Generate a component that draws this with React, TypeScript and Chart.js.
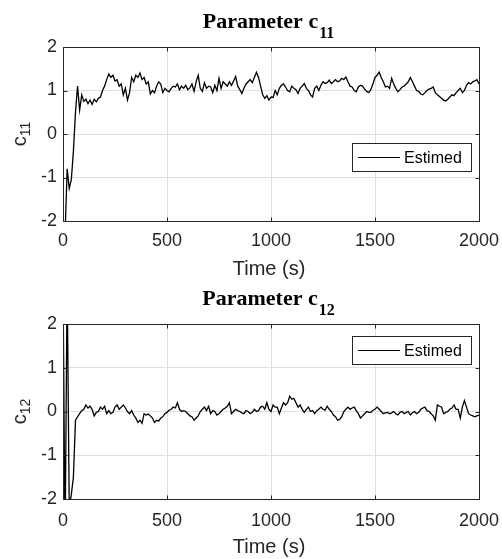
import { useEffect, useRef } from "react";
import { Chart, registerables } from "chart.js";
Chart.register(...registerables);

// ---------- data ----------
const SAMPLE_STEP = 10; // seconds between samples (0 .. 2000 s)
const X_TICKS = [0, 500, 1000, 1500, 2000];
const Y_TICKS = [-2, -1, 0, 1, 2];
const X_LABEL = "Time (s)";
const LEGEND_LABEL = "Estimed";

const C11_VALUES = [
  -2.5, -2.3, -0.8, -1.25, -1.05, -0.4, 0.5, 1.1, 0.55, 0.9,
  0.75, 0.8, 0.7, 0.78, 0.68, 0.8, 0.74, 0.82, 0.85, 1.0,
  1.1, 1.25, 1.38, 1.3, 1.35, 1.22, 1.25, 1.1, 1.15, 0.9,
  1.05, 0.78, 0.95, 1.3, 1.2, 1.35, 1.3, 1.4, 1.25, 1.3,
  1.15, 1.2, 0.92, 1.0, 0.95, 1.1, 1.2, 1.15, 0.95, 1.05,
  1.0, 0.97, 1.05, 1.1, 1.08, 1.15, 1.02, 1.1, 1.05, 1.12,
  1.02, 1.06, 1.15, 0.98, 1.2, 1.35, 1.05, 0.98, 1.18, 1.05,
  1.1, 1.08, 0.95, 1.12, 1.0, 1.28, 1.05, 1.2, 1.15, 1.1,
  1.2, 1.12, 1.22, 1.32, 1.1, 1.02, 0.93, 1.05, 1.15, 1.2,
  1.25, 1.18, 1.3, 1.42, 1.3, 1.1, 0.9, 0.82, 0.88, 0.78,
  0.85, 0.84, 1.0, 0.9, 1.05, 1.12, 1.15, 1.08, 1.0, 0.97,
  1.1, 1.05, 1.02, 0.93, 1.05, 1.1, 1.16, 1.05, 1.0, 0.9,
  0.85, 1.05, 1.1, 1.0, 1.12, 1.2, 1.16, 1.18, 1.24, 1.16,
  1.2, 1.25, 1.2, 1.22, 1.28, 1.25, 1.31, 1.2, 1.1, 1.08,
  1.0, 0.97, 1.08, 1.12, 1.1, 1.03, 0.98, 0.95, 1.02, 1.15,
  1.3, 1.35, 1.42, 1.3, 1.2, 1.08, 1.1, 1.05, 1.28, 1.15,
  1.05, 0.97, 1.02, 1.08, 1.1, 1.15, 1.2, 1.3, 1.2, 1.1,
  1.0, 0.98, 0.92, 0.9, 0.95, 1.0, 1.03, 1.05, 1.08, 0.95,
  0.9, 0.86, 0.82, 0.78, 0.76, 0.8, 0.85, 0.9, 0.88, 0.95,
  1.0, 1.05, 0.95, 1.0, 1.12, 1.18, 1.15, 1.2, 1.22, 1.25,
  1.15,
];

const C12_VALUES = [
  3, -3, 3, -2.2, -1.9, -1.5, -0.2, -0.12, -0.05, 0.02,
  0.05, 0.15, 0.08, 0.12, 0.05, -0.1, -0.02, 0.0, 0.1, 0.05,
  0.12, -0.05, 0.02, -0.05, -0.02, 0.1, 0.15, 0.05, 0.1, 0.15,
  0.08, 0.0, -0.05, 0.02, -0.08, -0.15, -0.25, -0.2, -0.27, -0.05,
  -0.08, -0.06, -0.1, -0.15, -0.25, -0.2, -0.22, -0.15, -0.12, -0.05,
  -0.02, 0.03, 0.05, 0.1, 0.08, 0.2, 0.05, 0.0, 0.02, 0.0,
  -0.05, -0.1, -0.12, -0.2, -0.15, -0.1, 0.0, 0.05, 0.1, 0.02,
  0.12, -0.05, 0.02, 0.0, -0.08, -0.05, 0.0, 0.05, 0.08, 0.12,
  0.2, -0.05, 0.0, 0.05, 0.02, 0.0, -0.03, -0.05, 0.02, 0.0,
  -0.05, -0.02, 0.05, 0.0, 0.02, 0.1, 0.12, 0.05, 0.2, 0.05,
  0.0, 0.15, 0.1, 0.1, -0.05, 0.08, 0.2, 0.15, 0.2, 0.35,
  0.28, 0.3, 0.2, 0.1, 0.15, 0.05, -0.02, 0.05, 0.1, 0.0,
  0.02, -0.05, 0.02, 0.05, 0.1, 0.05, 0.03, 0.12, 0.05, 0.0,
  -0.08, -0.12, -0.2, -0.18, -0.12, 0.0, 0.05, 0.1, 0.05, 0.08,
  0.1, 0.02, -0.05, -0.15, -0.1, -0.05, 0.0, -0.02, -0.02, 0.03,
  0.05, 0.1, 0.05, 0.0, -0.05, -0.03, -0.02, -0.05, -0.03, 0.0,
  -0.05, -0.08, -0.02, 0.0, -0.05, -0.02, 0.0, -0.08, -0.03, 0.0,
  -0.05, -0.02, 0.05, 0.08, 0.1, 0.02, 0.0, -0.05, -0.1, -0.2,
  0.15, 0.12, 0.1, -0.05, -0.02, 0.0, 0.05, 0.08, 0.15, 0.05,
  0.05, -0.15, 0.1, 0.25, 0.1, -0.05, -0.08, -0.1, -0.12, -0.1,
  -0.08,
];

// ---------- styling ----------
const W = 502;
const AXIS_COLOR = "#262626";
const GRID_COLOR = "#e0e0e0";
const SANS = "'Liberation Sans', Arial, sans-serif";
const SERIF = "'Liberation Serif', 'Times New Roman', serif";

type Panel = {
  values: number[];
  sub: string;
  height: number;
  plotTop: number;
  plotBottom: number;
  tickPad: number;
  titleBase: number;
  xLabelY: number;
  legendTop: number;
};

const PANELS: Panel[] = [
  { values: C11_VALUES, sub: "11", height: 280, plotTop: 47, plotBottom: 221, tickPad: 9, titleBase: 28, xLabelY: 269, legendTop: 143 },
  { values: C12_VALUES, sub: "12", height: 279, plotTop: 44, plotBottom: 219, tickPad: 11, titleBase: 25, xLabelY: 267, legendTop: 56 },
];

function decorPlugin(p: Panel) {
  return {
    id: "decor",
    afterDatasetsDraw(chart: any) {
      const ctx = chart.ctx as CanvasRenderingContext2D;
      const a = chart.chartArea;
      const xs = chart.scales.x;
      const ys = chart.scales.y;
      ctx.save();
      ctx.strokeStyle = AXIS_COLOR;
      ctx.lineWidth = 1;
      const L = Math.round(a.left) + 0.5;
      const R = Math.round(a.right) + 0.5;
      const T = Math.round(a.top) + 0.5;
      const B = Math.round(a.bottom) + 0.5;
      ctx.beginPath();
      ctx.rect(L, T, R - L, B - T);
      // inward ticks
      for (const t of X_TICKS) {
        const px = Math.round(xs.getPixelForValue(t)) + 0.5;
        ctx.moveTo(px, B); ctx.lineTo(px, B - 4);
        ctx.moveTo(px, T); ctx.lineTo(px, T + 4);
      }
      for (const t of Y_TICKS) {
        const py = Math.round(ys.getPixelForValue(t)) + 0.5;
        ctx.moveTo(L, py); ctx.lineTo(L + 4, py);
        ctx.moveTo(R, py); ctx.lineTo(R - 4, py);
      }
      ctx.stroke();

      // legend
      const lx = 352.5, ly = p.legendTop + 0.5, lw = 119, lh = 28;
      ctx.fillStyle = "#ffffff";
      ctx.fillRect(lx, ly, lw, lh);
      ctx.strokeStyle = AXIS_COLOR;
      ctx.strokeRect(lx, ly, lw, lh);
      const cy = ly + lh / 2;
      ctx.strokeStyle = "#000000";
      ctx.lineWidth = 1.2;
      ctx.beginPath();
      ctx.moveTo(358, cy); ctx.lineTo(400, cy);
      ctx.stroke();
      ctx.fillStyle = "#000000";
      ctx.font = `16px ${SANS}`;
      ctx.textBaseline = "middle";
      ctx.textAlign = "left";
      ctx.fillText(LEGEND_LABEL, 404, cy + 1);
      ctx.restore();
    },
    afterDraw(chart: any) {
      const ctx = chart.ctx as CanvasRenderingContext2D;
      const a = chart.chartArea;
      const cx = (a.left + a.right) / 2;
      ctx.save();
      ctx.fillStyle = "#000000";
      ctx.textBaseline = "alphabetic";
      ctx.textAlign = "left";
      // title
      ctx.font = `bold 22px ${SERIF}`;
      const main = "Parameter c";
      const w1 = ctx.measureText(main).width;
      ctx.font = `bold 16px ${SERIF}`;
      const w2 = ctx.measureText(p.sub).width;
      const sx = cx - (w1 + w2) / 2 - 3;
      ctx.font = `bold 22px ${SERIF}`;
      ctx.fillText(main, sx, p.titleBase);
      ctx.font = `bold 16px ${SERIF}`;
      ctx.fillText(p.sub, sx + w1 + 1, p.titleBase + 10);

      // x label
      ctx.fillStyle = AXIS_COLOR;
      ctx.font = `20px ${SANS}`;
      ctx.textAlign = "center";
      ctx.textBaseline = "middle";
      ctx.fillText(X_LABEL, cx - 2, p.xLabelY);

      // y label (rotated, with subscript)
      const cyc = (a.top + a.bottom) / 2;
      ctx.translate(26, cyc);
      ctx.rotate(-Math.PI / 2);
      ctx.textAlign = "left";
      ctx.textBaseline = "alphabetic";
      ctx.font = `20px ${SANS}`;
      const wc = ctx.measureText("c").width;
      ctx.font = `14px ${SANS}`;
      const ws = ctx.measureText(p.sub).width;
      const start = -(wc + ws) / 2;
      ctx.font = `20px ${SANS}`;
      ctx.fillText("c", start, 0);
      ctx.font = `14px ${SANS}`;
      ctx.fillText(p.sub, start + wc, 4);
      ctx.restore();
    },
  };
}

function PanelChart({ p }: { p: Panel }) {
  const ref = useRef<HTMLCanvasElement | null>(null);
  useEffect(() => {
    if (!ref.current) return;
    const points = p.values.map((v, i) => ({ x: i * SAMPLE_STEP, y: v }));
    const chart = new Chart(ref.current, {
      type: "line",
      data: {
        datasets: [
          {
            label: LEGEND_LABEL,
            data: points,
            borderColor: "#000000",
            borderWidth: 1.3,
            pointRadius: 0,
            tension: 0,
            fill: false,
          },
        ],
      },
      options: {
        responsive: false,
        animation: false,
        devicePixelRatio: 1,
        layout: { padding: { top: p.plotTop, right: W - 479, bottom: 0, left: 0 } },
        plugins: { legend: { display: false }, title: { display: false }, tooltip: { enabled: false } },
        scales: {
          x: {
            type: "linear",
            min: 0,
            max: 2000,
            afterFit: (s: any) => {
              s.height = p.height - p.plotBottom;
              s.paddingLeft = 0;
              s.paddingRight = 0;
            },
            afterBuildTicks: (s: any) => { s.ticks = X_TICKS.map((v) => ({ value: v })); },
            grid: { color: GRID_COLOR, lineWidth: 1, drawTicks: false },
            border: { display: false },
            ticks: {
              padding: p.tickPad,
              color: AXIS_COLOR,
              font: { family: SANS, size: 18 },
              maxRotation: 0,
              callback: (v: any) => String(v),
            },
          },
          y: {
            type: "linear",
            min: -2,
            max: 2,
            afterFit: (s: any) => {
              s.width = 63;
              s.paddingTop = 0;
              s.paddingBottom = 0;
            },
            afterBuildTicks: (s: any) => { s.ticks = Y_TICKS.map((v) => ({ value: v })); },
            grid: { color: GRID_COLOR, lineWidth: 1, drawTicks: false },
            border: { display: false },
            ticks: {
              padding: 6,
              color: AXIS_COLOR,
              font: { family: SANS, size: 18 },
              callback: (v: any) => String(v),
            },
          },
        },
      },
      plugins: [decorPlugin(p)],
    } as any);
    return () => chart.destroy();
  }, [p]);
  return <canvas ref={ref} width={W} height={p.height} style={{ display: "block", width: W, height: p.height }} />;
}

export default function App() {
  return (
    <div style={{ position: "absolute", left: 0, top: 0, width: W, height: 559, background: "#ffffff" }}>
      {PANELS.map((p, i) => (
        <PanelChart key={i} p={p} />
      ))}
    </div>
  );
}
